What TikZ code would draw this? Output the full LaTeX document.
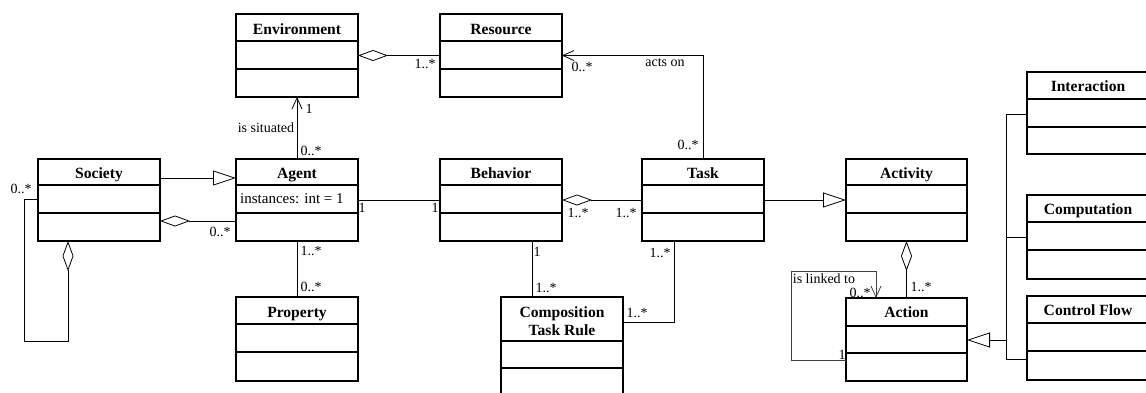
\documentclass[tikz,border=0pt]{standalone}
\usepackage{fontspec}
\setmainfont{Liberation Serif}
\usetikzlibrary{arrows.meta}

\tikzset{
  clsbox/.style={draw, line width=1.4pt, inner sep=0pt, outer sep=0pt, rectangle},
  divider/.style={line width=1.4pt},
  clstitle/.style={font=\fontsize{15.6}{18}\bfseries\selectfont, inner sep=0pt, anchor=base, align=center},
  attr/.style={font=\fontsize{15}{18}\selectfont, inner sep=0pt, anchor=base west},
  lbl/.style={font=\fontsize{14}{16}\selectfont, inner sep=0pt},
  conn/.style={line width=0.8pt},
  agg/.style={conn, {Diamond[open,length=30pt,width=11pt]}-},
  gen/.style={conn, -{Triangle[open,length=23pt,width=15pt]}},
  nav/.style={conn, -{Straight Barb[length=11pt,width=10pt]}},
}

% class box: name, left, top, right, bottom, first divider, second divider, title, title baseline
\newcommand\umlclass[9]{%
  \node[clsbox, minimum width={#4-#2}, minimum height={#5-#3}] (#1) at ({(#2+#4)/2},{(#3+#5)/2}) {};
  \draw[divider] (#2,#6) -- (#4,#6) (#2,#7) -- (#4,#7);
  \node[clstitle] (#1-title) at ({(#2+#4)/2},#9) {#8};
}

\begin{document}
\begin{tikzpicture}[x=1pt, y=-1pt]
  \useasboundingbox (0,0) rectangle (1146,392);
  \clip (0,0) rectangle (1146,392);

  % classes
  \umlclass{env}{236}{14}{358}{97}{41}{69}{Environment}{34}
  \umlclass{res}{440}{14}{562}{97}{41}{69}{Resource}{34}
  \umlclass{soc}{38}{159}{160}{241}{185}{213}{Society}{178}
  \umlclass{agent}{236}{159}{358}{241}{185}{213}{Agent}{178}
  \umlclass{beh}{440}{159}{562}{241}{185}{213}{Behavior}{178}
  \umlclass{task}{642}{159}{764}{241}{185}{213}{Task}{178}
  \umlclass{act}{846}{159}{967}{241}{185}{213}{Activity}{178}
  \umlclass{prop}{236}{297}{358}{381}{324}{352}{Property}{317}
  \umlclass{action}{846}{298}{967}{381}{326}{353}{Action}{317}
  \umlclass{inter}{1027}{72}{1149}{154}{99}{127}{Interaction}{91}
  \umlclass{comp}{1027}{195}{1149}{279}{222}{250}{Computation}{214}
  \umlclass{ctrl}{1027}{296}{1149}{380}{323}{351}{Control Flow}{315}

  % composition task rule (two-line title)
  \node[clsbox, minimum width=122, minimum height=102] (ctr) at (562,348) {};
  \draw[divider] (501,341) -- (623,341) (501,368) -- (623,368);
  \node[clstitle, anchor=center] (ctr-title) at (562,321.5) {Composition\\Task Rule};

  % attribute
  \node[attr] (agent-attr) at (240,203) {instances: int = 1};

  % bend points
  \coordinate (socloopA) at (68,341);
  \coordinate (socloopB) at (24,341);
  \coordinate (socloopC) at (24,199);
  \coordinate (ctrbend) at (674,322);
  \coordinate (linkA) at (791,360);
  \coordinate (linkB) at (791,271);
  \coordinate (linkC) at (876,271);
  \coordinate (genbus) at (1006,114);
  \coordinate (genbusEnd) at (1006,359);
  \coordinate (genComp) at (1006,237);
  \coordinate (genAct) at (1006,340);

  % environment / resource
  \draw[agg] (env.east) -- (res.west);
  \draw[nav] (task.north) -- (task.north |- res.east) -- (res.east);
  \draw[nav] (agent.north) -- (env.south);

  % society
  \draw[gen] (soc.east |- 0,178) -- (agent.west |- 0,178);
  \draw[agg] (soc.east |- 0,221) -- (agent.west |- 0,221);
  \draw[agg] (soc.south -| socloopA) -- (socloopA) -- (socloopB) -- (socloopC) -- (soc.west |- socloopC);

  % agent, behaviour, task
  \draw[conn] (agent.east) -- (beh.west);
  \draw[agg] (beh.east) -- (task.west);
  \draw[conn] (agent.south) -- (prop.north);
  \draw[conn] (beh.south -| 532,0) -- (ctr.north -| 532,0);
  \draw[conn] (task.south -| ctrbend) -- (ctrbend) -- (ctr.east |- ctrbend);
  \draw[gen] (task.east) -- (act.west);

  % activity / action
  \draw[agg] (act.south) -- (action.north);
  \draw[nav, black!75] (action.west |- linkA) -- (linkA) -- (linkB) -- (linkC) -- (action.north -| linkC);
  \draw[conn] (inter.west |- genbus) -- (genbus) -- (genbusEnd) -- (ctrl.west |- genbusEnd);
  \draw[conn] (genComp) -- (comp.west |- genComp);
  \draw[gen] (genAct) -- (action.east |- genAct);

  % multiplicities and role labels
  \node[lbl] (l-envres) at (425,64) {1..*};
  \node[lbl] (l-resact) at (582,67) {0..*};
  \node[lbl] (l-actson) at (665,63) {acts on};
  \node[lbl] (l-taskact) at (688,145) {0..*};
  \node[lbl] (l-envone) at (309,109) {1};
  \node[lbl] (l-situated) at (266,128) {is situated};
  \node[lbl] (l-agentenv) at (311,151) {0..*};
  \node[lbl] (l-socself) at (21,189) {0..*};
  \node[lbl] (l-socagent) at (220,232) {0..*};
  \node[lbl] (l-agentbeh) at (362,208) {1};
  \node[lbl] (l-behagent) at (435,208) {1};
  \node[lbl] (l-behtask) at (578,213) {1..*};
  \node[lbl] (l-taskbeh) at (626,213) {1..*};
  \node[lbl] (l-agentprop) at (311,251) {1..*};
  \node[lbl] (l-propagent) at (311,287) {0..*};
  \node[lbl] (l-behctr) at (537,252) {1};
  \node[lbl] (l-ctrbeh) at (546,288) {1..*};
  \node[lbl] (l-taskctr) at (660,253) {1..*};
  \node[lbl] (l-ctrtask) at (637,313) {1..*};
  \node[lbl] (l-actaction) at (921,287) {1..*};
  \node[lbl] (l-linkone) at (842,355) {1};
  \node[lbl] (l-linkmany) at (860,293) {0..*};
  \node[lbl] (l-linked) at (824,279) {is linked to};
\end{tikzpicture}
\end{document}
